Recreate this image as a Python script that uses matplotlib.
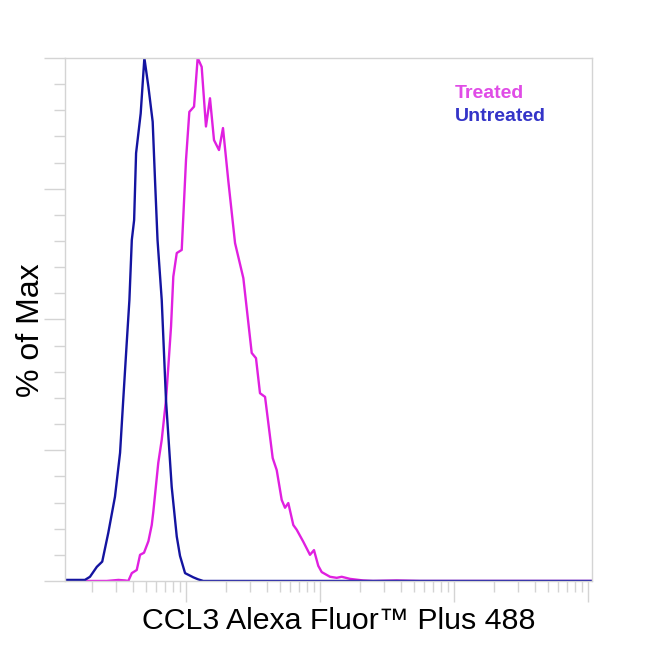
import matplotlib
matplotlib.use("Agg")
import matplotlib.pyplot as plt
from matplotlib.ticker import LogLocator, MultipleLocator, NullFormatter

plt.rcParams['font.family'] = ['Liberation Sans', 'DejaVu Sans']

# Untreated (blue) histogram: fluorescence vs % of max
untreated_x = [125, 176, 192, 216, 237, 263, 295, 322, 340, 361, 378, 394, 410,
               424, 459, 489, 524, 564, 587, 613, 659, 709, 782, 853, 902, 984,
               1133, 1235, 1346, 1.07e6]
untreated_y = [0.2, 0.2, 0.8, 2.7, 3.7, 9.2, 16.1, 24.5, 34.6, 45.5, 53.7, 65.2, 69.0,
               81.8, 89.4, 100, 94.5, 87.8, 76.7, 65.2, 53.7, 34.6, 18.0, 8.5, 4.8, 1.5,
               0.7, 0.3, 0.0, 0.0]

# Treated (magenta) histogram
treated_x = [125, 256, 313, 351, 371, 394, 429, 454, 486, 524, 555, 570, 621, 659,
             709, 738, 773, 804, 853, 929, 1000, 1059, 1148, 1222, 1309, 1409, 1510,
             1618, 1763, 1888, 2069, 2323, 2679, 3093, 3329, 3566, 3890, 4436, 4753,
             5178, 5481, 5801, 6321, 6700, 7505, 8420, 9017, 9707, 10300, 11880,
             13330, 14520, 16760, 20950, 24880, 37360, 55700, 1.07e6]
treated_y = [0.0, 0.0, 0.2, 0.1, 0.0, 1.5, 2.1, 5.0, 5.4, 7.6, 10.7, 13.2, 22.6, 27.0,
             34.6, 41.0, 48.6, 58.2, 62.7, 63.3, 80.5, 89.7, 90.7, 100, 98.3, 86.9, 92.3,
             84.3, 82.4, 86.6, 76.5, 64.6, 57.9, 43.6, 42.6, 35.9, 35.2, 23.5, 21.2,
             15.5, 14.0, 14.9, 10.7, 9.8, 7.5, 5.0, 5.9, 2.9, 1.7, 0.8,
             0.6, 0.8, 0.4, 0.1, 0.0, 0.1, 0.0, 0.0]

fig = plt.figure(figsize=(6.5, 6.5), dpi=100)
ax = fig.add_axes([0.1, 0.1062, 0.8108, 0.8046])

ax.plot(treated_x, treated_y, color='#e020e0', lw=1.7)
ax.plot(untreated_x, untreated_y, color='#1414a0', lw=1.7)

ax.set_xscale('log')
ax.set_xlim(125, 1.072e6)
ax.set_ylim(0, 100)

# ticks, no labels
ax.xaxis.set_major_locator(LogLocator(base=10, numticks=10))
ax.xaxis.set_minor_locator(LogLocator(base=10, subs=range(2, 10), numticks=20))
ax.xaxis.set_major_formatter(NullFormatter())
ax.xaxis.set_minor_formatter(NullFormatter())
ax.yaxis.set_major_locator(MultipleLocator(25))
ax.yaxis.set_minor_locator(MultipleLocator(5))
ax.yaxis.set_major_formatter(NullFormatter())

ax.tick_params(which='major', length=15, width=1, color='#d4d4d4', direction='out')
ax.tick_params(which='minor', length=8, width=1, color='#d4d4d4', direction='out')

for s in ax.spines.values():
    s.set_color('#d4d4d4')
    s.set_linewidth(1)

ax.set_xlabel('CCL3 Alexa Fluor™ Plus 488', fontsize=21.8, labelpad=0, x=0.52)
ax.set_ylabel('% of Max', fontsize=23)
ax.yaxis.set_label_coords(-0.0365, 0.479)

ax.text(0.74, 0.9325, 'Treated', transform=ax.transAxes, color='#e04ce6',
        fontsize=14, fontweight='bold', va='center')
ax.text(0.74, 0.8878, 'Untreated', transform=ax.transAxes, color='#3434c8',
        fontsize=14, fontweight='bold', va='center')

fig.savefig('out.png', dpi=100)
